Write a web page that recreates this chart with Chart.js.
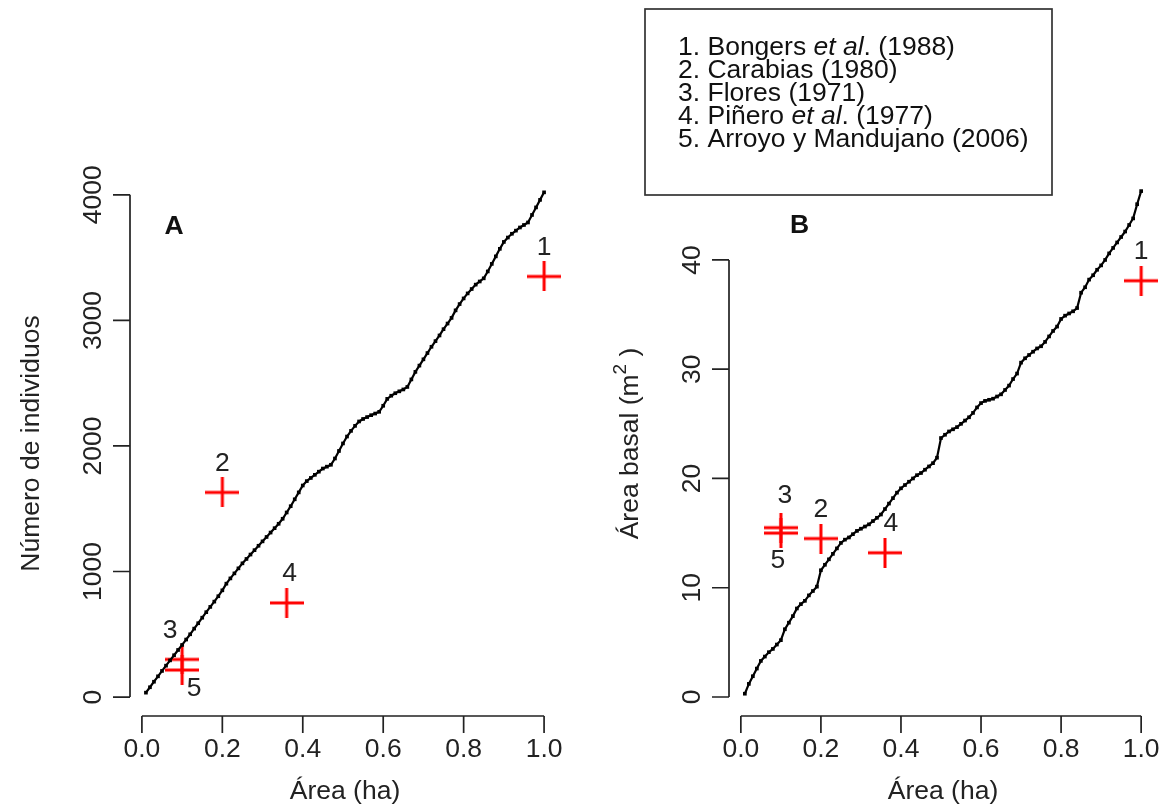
<!DOCTYPE html>
<html>
<head>
<meta charset="utf-8">
<script src="https://cdn.jsdelivr.net/npm/chart.js@4.4.1/dist/chart.umd.min.js"></script>
<style>
html, body { margin: 0; padding: 0; background: #fff; }
#wrap { position: relative; width: 1168px; height: 809px; }
canvas { position: absolute; left: 0; top: 0; }
</style>
</head>
<body>
<div id="wrap">
  <canvas id="chartA" width="1168" height="809"></canvas>
  <canvas id="chartB" width="1168" height="809"></canvas>
</div>
<script>
// parcelas acumuladas (ha)
const area = [
  0.01, 0.02, 0.03, 0.04, 0.05, 0.06, 0.07, 0.08, 0.09, 0.10,
  0.11, 0.12, 0.13, 0.14, 0.15, 0.16, 0.17, 0.18, 0.19, 0.20,
  0.21, 0.22, 0.23, 0.24, 0.25, 0.26, 0.27, 0.28, 0.29, 0.30,
  0.31, 0.32, 0.33, 0.34, 0.35, 0.36, 0.37, 0.38, 0.39, 0.40,
  0.41, 0.42, 0.43, 0.44, 0.45, 0.46, 0.47, 0.48, 0.49, 0.50,
  0.51, 0.52, 0.53, 0.54, 0.55, 0.56, 0.57, 0.58, 0.59, 0.60,
  0.61, 0.62, 0.63, 0.64, 0.65, 0.66, 0.67, 0.68, 0.69, 0.70,
  0.71, 0.72, 0.73, 0.74, 0.75, 0.76, 0.77, 0.78, 0.79, 0.80,
  0.81, 0.82, 0.83, 0.84, 0.85, 0.86, 0.87, 0.88, 0.89, 0.90,
  0.91, 0.92, 0.93, 0.94, 0.95, 0.96, 0.97, 0.98, 0.99, 1.00
];
const individuos = [
  35, 78, 122, 165, 208, 250, 292, 333, 375, 415,
  458, 500, 545, 588, 632, 676, 718, 760, 803, 850,
  903, 945, 985, 1025, 1065, 1100, 1135, 1170, 1205, 1240,
  1275, 1310, 1345, 1380, 1420, 1470, 1520, 1575, 1630, 1685,
  1720, 1745, 1770, 1795, 1820, 1835, 1850, 1900, 1960, 2020,
  2075, 2120, 2160, 2195, 2215, 2230, 2245, 2258, 2272, 2320,
  2375, 2400, 2420, 2435, 2450, 2470, 2530, 2590, 2640, 2690,
  2740, 2790, 2835, 2880, 2930, 2975, 3020, 3080, 3130, 3175,
  3215, 3250, 3285, 3310, 3335, 3390, 3450, 3510, 3570, 3625,
  3660, 3690, 3715, 3740, 3760, 3780, 3840, 3900, 3960, 4020
];
const areaBasal = [
  0.3, 1.2, 1.9, 2.6, 3.3, 3.7, 4.1, 4.4, 4.8, 5.2,
  6.2, 6.8, 7.4, 8.1, 8.5, 8.8, 9.3, 9.7, 10.1, 11.6,
  12.1, 12.6, 13.1, 13.6, 14.1, 14.4, 14.6, 14.9, 15.2, 15.4,
  15.6, 15.8, 16.1, 16.4, 16.7, 17.2, 17.7, 18.2, 18.7, 19.1,
  19.4, 19.7, 20.0, 20.3, 20.5, 20.8, 21.1, 21.4, 21.9, 23.7,
  24.0, 24.3, 24.5, 24.7, 25.0, 25.3, 25.6, 26.0, 26.5, 26.9,
  27.1, 27.2, 27.3, 27.5, 27.7, 28.1, 28.5, 29.1, 29.6, 30.6,
  31.0, 31.3, 31.6, 31.9, 32.1, 32.5, 33.0, 33.5, 33.9, 34.6,
  34.9, 35.1, 35.3, 35.6, 37.0, 37.5, 38.2, 38.6, 39.1, 39.5,
  40.0, 40.6, 41.1, 41.6, 42.1, 42.6, 43.2, 43.8, 45.1, 46.3
];

// estudios de referencia
const refLabels = ['1', '2', '3', '4', '5'];
const refArea = [1.0, 0.2, 0.1, 0.36, 0.1];
const refIndividuos = [3350, 1630, 300, 750, 215];
const refAreaBasal = [38.1, 14.5, 15.5, 13.2, 15.0];

const xTicks = [0, 0.2, 0.4, 0.6, 0.8, 1.0];
const xTickLabels = ['0.0', '0.2', '0.4', '0.6', '0.8', '1.0'];
const yTicksA = [0, 1000, 2000, 3000, 4000];
const yTicksB = [0, 10, 20, 30, 40];

const legendLines = [
  [['1. Bongers ', false], ['et al', true], ['. (1988)', false]],
  [['2. Carabias (1980)', false]],
  [['3. Flores (1971)', false]],
  [['4. Piñero ', false], ['et al', true], ['. (1977)', false]],
  [['5. Arroyo y Mandujano (2006)', false]]
];

const FONT = "'Liberation Sans', Arial, sans-serif";
const FS = 26.5;

function makeCross(w, h, lw, color) {
  const c = document.createElement('canvas');
  c.width = w; c.height = h;
  const g = c.getContext('2d');
  g.strokeStyle = color; g.lineWidth = lw;
  g.beginPath();
  g.moveTo(0, h / 2); g.lineTo(w, h / 2);
  g.moveTo(w / 2, 0); g.lineTo(w / 2, h);
  g.stroke();
  return c;
}
const cross = makeCross(34, 30, 3, '#ff0000');

// ejes al estilo R: línea solo entre el primer y último tick
const rAxes = {
  id: 'rAxes',
  afterDraw(chart, args, o) {
    const { ctx, chartArea: ca, scales: { x, y } } = chart;
    ctx.save();
    ctx.strokeStyle = '#222';
    ctx.fillStyle = '#222';
    ctx.lineWidth = 1.7;
    ctx.font = FS + 'px ' + FONT;
    ctx.textAlign = 'center';
    ctx.textBaseline = 'middle';

    const yb = ca.bottom;
    ctx.beginPath();
    ctx.moveTo(x.getPixelForValue(xTicks[0]), yb);
    ctx.lineTo(x.getPixelForValue(xTicks[xTicks.length - 1]), yb);
    xTicks.forEach(v => {
      const px = x.getPixelForValue(v);
      ctx.moveTo(px, yb); ctx.lineTo(px, yb + 17);
    });
    ctx.stroke();
    xTicks.forEach((v, i) => ctx.fillText(xTickLabels[i], x.getPixelForValue(v), yb + 34));
    ctx.fillText('Área (ha)', (ca.left + ca.right) / 2, yb + 76);

    const xl = ca.left;
    const yt = o.yTicks;
    ctx.beginPath();
    ctx.moveTo(xl, y.getPixelForValue(yt[0]));
    ctx.lineTo(xl, y.getPixelForValue(yt[yt.length - 1]));
    yt.forEach(v => {
      const py = y.getPixelForValue(v);
      ctx.moveTo(xl, py); ctx.lineTo(xl - 17, py);
    });
    ctx.stroke();
    yt.forEach(v => {
      ctx.save();
      ctx.translate(xl - 36, y.getPixelForValue(v));
      ctx.rotate(-Math.PI / 2);
      ctx.fillText(String(v), 0, 0);
      ctx.restore();
    });

    ctx.save();
    ctx.translate(xl - 98, (ca.top + ca.bottom) / 2);
    ctx.rotate(-Math.PI / 2);
    if (o.superTitle) {
      const [a, sup, b] = o.superTitle;
      const wa = ctx.measureText(a).width;
      const wb = ctx.measureText(b).width;
      ctx.font = Math.round(FS * 0.7) + 'px ' + FONT;
      const ws = ctx.measureText(sup).width;
      let cx = -(wa + ws + wb) / 2;
      ctx.textAlign = 'left';
      ctx.font = FS + 'px ' + FONT;
      ctx.fillText(a, cx, 0); cx += wa;
      ctx.font = Math.round(FS * 0.7) + 'px ' + FONT;
      ctx.fillText(sup, cx, -10); cx += ws;
      ctx.font = FS + 'px ' + FONT;
      ctx.fillText(b, cx, 0);
    } else {
      ctx.fillText(o.yTitle, 0, 0);
    }
    ctx.restore();

    // letra del panel
    ctx.font = 'bold ' + FS + 'px ' + FONT;
    ctx.fillStyle = '#111';
    ctx.fillText(o.panel, x.getPixelForValue(o.panelAt[0]), y.getPixelForValue(o.panelAt[1]));

    // números de los estudios
    ctx.font = FS + 'px ' + FONT;
    ctx.fillStyle = '#222';
    const meta = chart.getDatasetMeta(1);
    meta.data.forEach((pt, i) => {
      const [dx, dy] = o.labelOffsets[i];
      ctx.fillText(refLabels[i], pt.x + dx, pt.y + dy);
    });

    if (o.legend) {
      const L = o.legend;
      ctx.strokeStyle = '#333';
      ctx.lineWidth = 1.7;
      ctx.strokeRect(L.x, L.y, L.w, L.h);
      ctx.textAlign = 'left';
      ctx.fillStyle = '#111';
      legendLines.forEach((segs, i) => {
        let cx = L.tx;
        const cy = L.ty + i * L.dy;
        segs.forEach(([t, it]) => {
          ctx.font = (it ? 'italic ' : '') + FS + 'px ' + FONT;
          ctx.fillText(t, cx, cy);
          cx += ctx.measureText(t).width;
        });
      });
    }
    ctx.restore();
  }
};

function makeChart(id, yData, refY, yMin, yMax, pad, axOpts) {
  return new Chart(document.getElementById(id), {
    type: 'scatter',
    data: {
      datasets: [
        {
          data: area.map((a, i) => ({ x: a, y: yData[i] })),
          showLine: true,
          borderColor: '#000',
          borderWidth: 2.2,
          pointStyle: 'rect',
          pointRadius: 2.6,
          pointBackgroundColor: '#000',
          pointBorderWidth: 0,
          clip: false
        },
        {
          data: refArea.map((a, i) => ({ x: a, y: refY[i] })),
          pointStyle: cross,
          clip: false
        }
      ]
    },
    options: {
      responsive: false,
      animation: false,
      devicePixelRatio: 1,
      layout: { padding: pad },
      scales: {
        x: { type: 'linear', min: -0.0296, max: 1.0396, display: false },
        y: { type: 'linear', min: yMin, max: yMax, display: false }
      },
      plugins: {
        legend: { display: false },
        tooltip: { enabled: false },
        rAxes: axOpts
      }
    },
    plugins: [rAxes]
  });
}

makeChart('chartA', individuos, refIndividuos, -151, 4190,
  { left: 130, right: 608, top: 171, bottom: 93 },
  {
    yTicks: yTicksA,
    yTitle: 'Número de individuos',
    panel: 'A', panelAt: [0.08, 3745],
    labelOffsets: [[0, -29], [0, -29], [-12, -29], [3, -29], [12, 19]]
  });

makeChart('chartB', areaBasal, refAreaBasal, -1.74, 48.14,
  { left: 729, right: 11, top: 171, bottom: 93 },
  {
    yTicks: yTicksB,
    superTitle: ['Área basal (m', '2', ' )'],
    panel: 'B', panelAt: [0.147, 43.1],
    labelOffsets: [[0, -29], [0, -29], [4, -32], [6, -29], [-3, 28]],
    legend: { x: 645, y: 9, w: 407, h: 186, tx: 678, ty: 48, dy: 22.8 }
  });
</script>
</body>
</html>
